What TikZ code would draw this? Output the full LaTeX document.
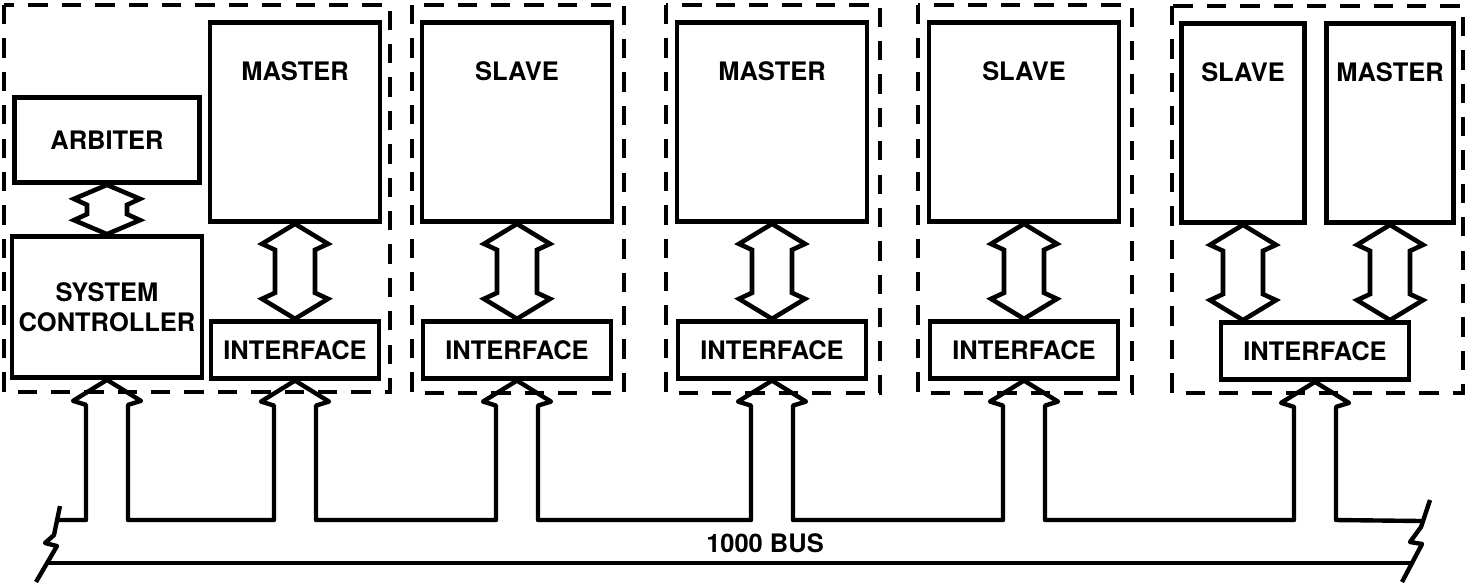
\documentclass[tikz,border=0pt]{standalone}
\usepackage{fontspec}
\setmainfont{TeX Gyre Heros}
\usetikzlibrary{positioning, calc}

\newcommand{\unitfont}{\fontsize{14.5}{17}\selectfont\bfseries}

\tikzset{
  plainbox/.style={
    draw, line width=2.7pt, align=center, inner sep=0pt,
    font=\unitfont
  },
  unitbox/.style={
    draw, line width=2.7pt, inner sep=0pt,
    minimum width=3.8cm, minimum height=3.98cm
  },
  ifacebox/.style={
    draw, line width=2.7pt, inner sep=0pt, font=\unitfont,
    minimum width=3.76cm, minimum height=1.14cm
  },
  toplabel/.style={
    label={[font=\unitfont, anchor=north, yshift=-20pt]north:#1}
  },
  groupbox/.style={
    draw, line width=2.7pt, dash pattern=on 11pt off 8pt
  },
  hollowarrow/.style={
    draw, line width=2.6pt, fill=white, line join=miter
  },
  busline/.style={line width=2.5pt, line join=round},
}

% hollow two-way arrow from #2 (upper tip) to #3 (lower tip), head depth #1
\newcommand{\twoway}[3][20]{%
  \draw[hollowarrow] (#2) -- ++(-33,#1) -- ++(13,6) -- ($(#3)+(-20,-#1-6)$)
    -- ++(-13,6) -- (#3) -- ++(33,-#1) -- ++(-13,-6)
    -- ($(#2)+(20,#1+6)$) -- ++(13,-6) -- cycle;}

\begin{document}
\begin{tikzpicture}[x=0.02cm, y=-0.02cm, node distance=1.9cm]
  \useasboundingbox (0,0) rectangle (1469,583);

  % ── Group frames ──
  \draw[groupbox] (4,5) rectangle (390,392);
  \draw[groupbox] (412,5) rectangle (624,393);
  \draw[groupbox] (666,5) rectangle (880,393);
  \draw[groupbox] (918,5) rectangle (1132,393);
  \draw[groupbox] (1172,6) rectangle (1463,393);

  % ── Group 1: arbiter, controller, master ──
  \node[plainbox, minimum width=3.7cm, minimum height=1.7cm]
    (arb) at (107,140) {ARBITER};
  \node[plainbox, minimum width=3.8cm, minimum height=2.82cm]
    (ctrl) at (107,307) {SYSTEM\\CONTROLLER};
  \node[unitbox, toplabel=MASTER, minimum width=3.4cm] (mstA) at (295,122) {};
  \node[ifacebox, minimum width=3.36cm, below=of mstA] (ifA) {INTERFACE};

  \twoway[14]{arb.south}{ctrl.north}
  \twoway{mstA.south}{ifA.north}

  % ── Group 2: slave ──
  \node[unitbox, toplabel=SLAVE] (slvB) at (517,122) {};
  \node[ifacebox, below=of slvB] (ifB) {INTERFACE};
  \twoway{slvB.south}{ifB.north}

  % ── Group 3: master ──
  \node[unitbox, toplabel=MASTER] (mstC) at (772,122) {};
  \node[ifacebox, below=of mstC] (ifC) {INTERFACE};
  \twoway{mstC.south}{ifC.north}

  % ── Group 4: slave ──
  \node[unitbox, toplabel=SLAVE] (slvD) at (1024,122) {};
  \node[ifacebox, below=of slvD] (ifD) {INTERFACE};
  \twoway{slvD.south}{ifD.north}

  % ── Group 5: slave + master on one interface ──
  \node[unitbox, toplabel=SLAVE, minimum width=2.46cm] (slvE) at (1243,123) {};
  \node[unitbox, toplabel=MASTER, minimum width=2.54cm] (mstE) at (1390,123) {};
  \node[ifacebox] (ifE) at (1315,351) {INTERFACE};
  \coordinate (ifEl) at (slvE.south |- ifE.north);
  \coordinate (ifEr) at (mstE.south |- ifE.north);
  \twoway{slvE.south}{ifEl}
  \twoway{mstE.south}{ifEr}

  % ── 1000 bus ──
  \coordinate (busTL) at (57,520);
  \coordinate (busTR) at (1422,521);
  \coordinate (busBL) at (47,563);
  \coordinate (busBR) at (1411,563);

  \draw[busline] (busTL)
    foreach \n in {ctrl,ifA,ifB,ifC,ifD,ifE}{
      -- ($(\n.south |- busTL)+(-21,0)$) -- ($(\n.south)+(-21,25)$)
      -- ++(-13,-4) -- (\n.south) -- ++(34,21) -- ++(-13,4)
      -- ($(\n.south |- busTL)+(21,0)$)
    } -- (busTR);
  \draw[busline] (busBL) -- (busBR);

  \draw[busline] (60,506) -- (54,535) -- (45,543) -- (57,546) -- (36,582);
  \draw[busline] (1430,500) -- (1421,527) -- (1410,542) -- (1422,544) -- (1402,582);

  \node[font=\unitfont] (buslbl) at (765,543) {1000 BUS};
\end{tikzpicture}
\end{document}
